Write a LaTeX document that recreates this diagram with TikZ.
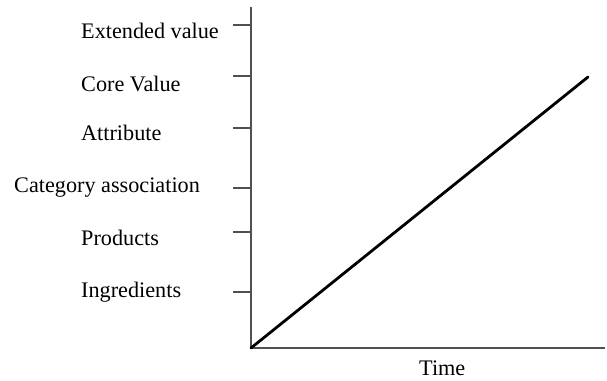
\documentclass[tikz,border=0pt]{standalone}
\usepackage{fontspec}
\setmainfont{Liberation Serif}
\definecolor{axisgray}{RGB}{80,80,80}
\begin{document}
\begin{tikzpicture}[x=1bp,y=1bp,
  axis/.style={draw=axisgray,line width=2bp},
  trend/.style={draw=black,line width=2.8bp},
  lbl/.style={anchor=base west,inner sep=0pt,font=\fontsize{22.3}{26}\selectfont}]
\useasboundingbox (0,0) rectangle (607,380);
% axes (image y flipped: tikz y = 380 - img y)
\coordinate (O) at (251,32);
\coordinate (Ytop) at (251,373);
\coordinate (Xend) at (605,32);
\coordinate (End) at (588,303);
\draw[axis] (Ytop) -- (O) -- (Xend);
\draw[trend,line cap=round] (O) -- (End);
% ticks
\foreach \n/\y in {t1/355,t2/304,t3/252,t4/192,t5/148,t6/88}{
  \coordinate (\n) at (251,\y);
  \coordinate (\n s) at (233,\y);
  \draw[axis] (\n s) -- (\n);
}
% labels
\node[lbl] (ext) at (81,342) {Extended value};
\node[lbl] (core) at (81,289) {Core Value};
\node[lbl] (attr) at (81,240) {Attribute};
\node[lbl] (cat) at (14,188) {Category association};
\node[lbl] (prod) at (81,135) {Products};
\node[lbl] (ingr) at (81,83) {Ingredients};
\node[lbl] (time) at (419,5) {Time};
\end{tikzpicture}
\end{document}
